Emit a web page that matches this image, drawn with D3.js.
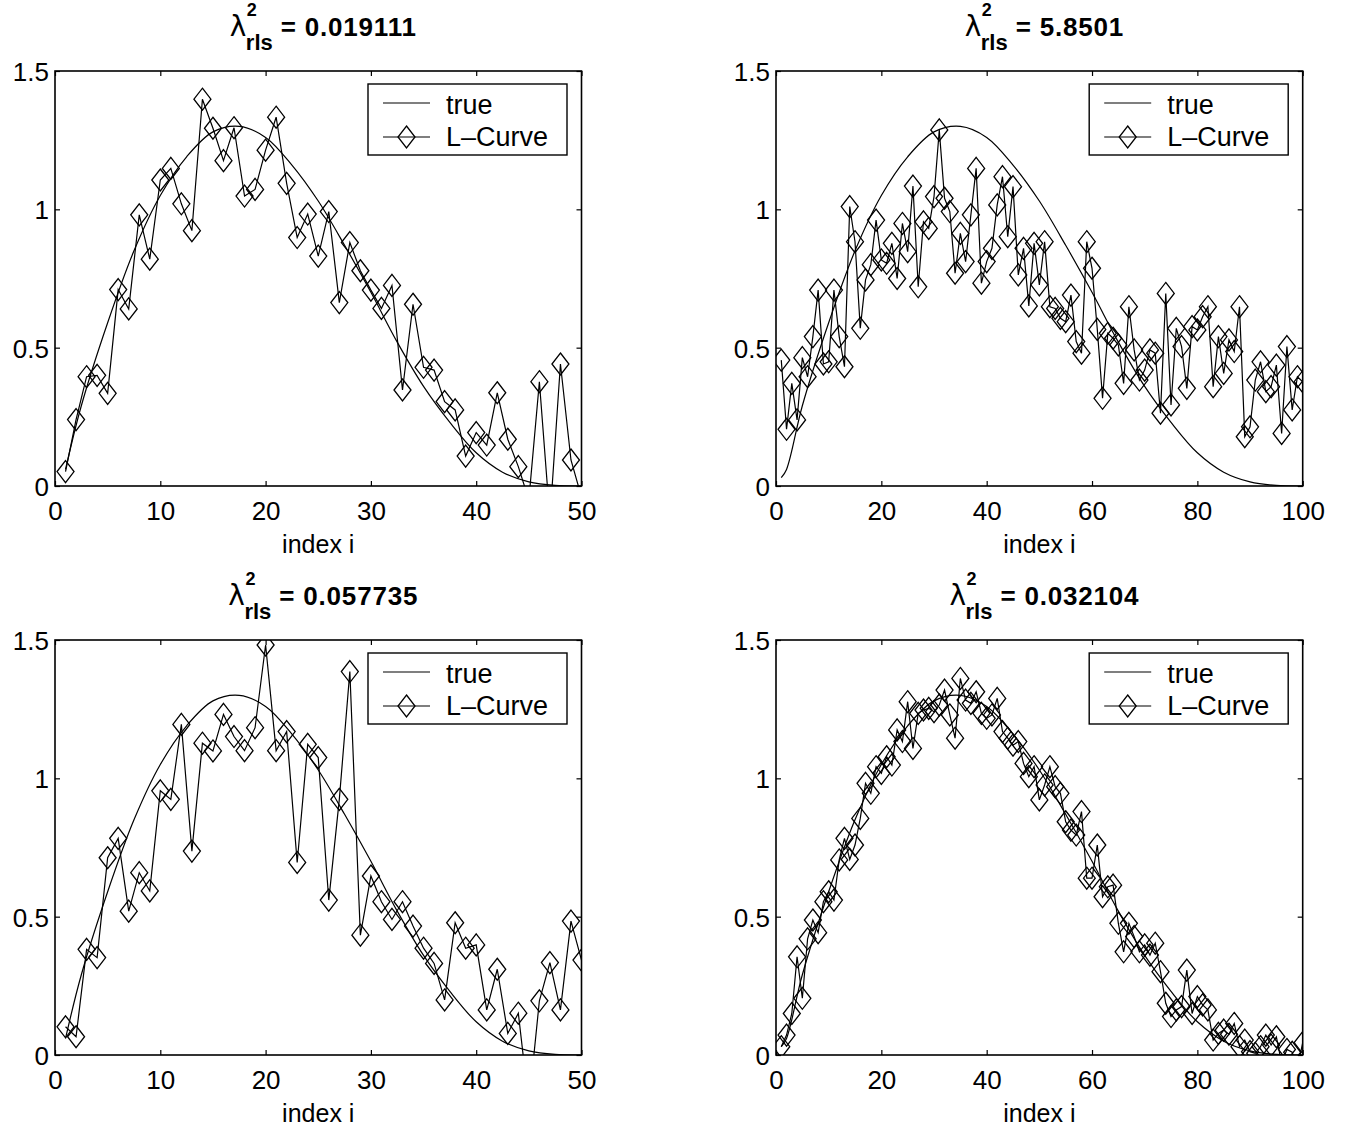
<!DOCTYPE html>
<html>
<head>
<meta charset="utf-8">
<script src="https://cdn.jsdelivr.net/npm/d3@7"></script>
<style>
  body { margin: 0; background: #fff; }
  svg { display: block; }
  text { font-family: "Liberation Sans", Arial, Helvetica, sans-serif; fill: #000; }
</style>
</head>
<body>
<svg id="fig" width="1345" height="1129"></svg>
<script>
// ---- data ----
const lambdaLabels = ["0.019111", "5.8501", "0.057735", "0.032104"];
const problemSizes = [50, 100, 50, 100];

// regularized solutions, one value per index i = 1..n
const fitTopLeft = [
  0.052, 0.24, 0.395, 0.40, 0.335, 0.71, 0.64, 0.98, 0.82, 1.106,
  1.148, 1.02, 0.923, 1.398, 1.293, 1.176, 1.295, 1.048, 1.072, 1.214,
  1.333, 1.094, 0.898, 0.983, 0.831, 0.992, 0.663, 0.88, 0.778, 0.708,
  0.642, 0.725, 0.347, 0.657, 0.429, 0.419, 0.305, 0.275, 0.108, 0.193,
  0.148, 0.337, 0.169, 0.07, -0.05, 0.377, -0.12, 0.441, 0.094, -0.04
];
const fitTopRight = [
  0.455, 0.205, 0.371, 0.239, 0.464, 0.395, 0.54, 0.708, 0.441, 0.449,
  0.708, 0.54, 0.431, 1.01, 0.883, 0.57, 0.745, 0.80, 0.961, 0.817,
  0.805, 0.877, 0.75, 0.949, 0.847, 1.084, 0.72, 0.955, 0.931, 1.046,
  1.287, 1.04, 0.992, 0.769, 0.913, 0.811, 0.98, 1.148, 0.733, 0.811,
  0.859, 1.016, 1.118, 0.901, 1.082, 0.763, 0.859, 0.651, 0.877, 0.727,
  0.883, 0.648, 0.642, 0.606, 0.594, 0.69, 0.522, 0.48, 0.883, 0.787,
  0.566, 0.317, 0.552, 0.534, 0.51, 0.371, 0.648, 0.492, 0.383, 0.419,
  0.492, 0.48, 0.263, 0.696, 0.293, 0.57, 0.504, 0.353, 0.576, 0.564,
  0.612, 0.648, 0.359, 0.54, 0.407, 0.528, 0.486, 0.648, 0.178, 0.214,
  0.383, 0.449, 0.341, 0.359, 0.437, 0.19, 0.504, 0.275, 0.395, 0.377
];
const fitBottomLeft = [
  0.102, 0.066, 0.382, 0.352, 0.713, 0.783, 0.52, 0.659, 0.593, 0.955,
  0.924, 1.195, 0.737, 1.127, 1.099, 1.231, 1.151, 1.10, 1.183, 1.482,
  1.10, 1.169, 0.696, 1.123, 1.075, 0.56, 0.924, 1.386, 0.433, 0.647,
  0.554, 0.49, 0.554, 0.466, 0.386, 0.331, 0.199, 0.478, 0.386, 0.398,
  0.163, 0.31, 0.078, 0.151, -0.18, 0.196, 0.334, 0.163, 0.484, 0.343
];
const fitBottomRight = [
  0.03, 0.072, 0.15, 0.355, 0.205, 0.42, 0.488, 0.442, 0.554, 0.59,
  0.56, 0.705, 0.783, 0.707, 0.759, 0.855, 0.982, 0.946, 1.042, 1.018,
  1.078, 1.048, 1.175, 1.133, 1.277, 1.108, 1.235, 1.247, 1.253, 1.241,
  1.265, 1.319, 1.229, 1.145, 1.361, 1.283, 1.271, 1.313, 1.235, 1.217,
  1.229, 1.289, 1.169, 1.145, 1.12, 1.133, 1.054, 1.006, 1.042, 0.922,
  0.976, 1.042, 0.97, 0.946, 0.843, 0.813, 0.795, 0.88, 0.639, 0.639,
  0.759, 0.572, 0.608, 0.614, 0.476, 0.373, 0.476, 0.428, 0.373, 0.398,
  0.361, 0.404, 0.301, 0.187, 0.139, 0.163, 0.175, 0.307, 0.15, 0.211,
  0.181, 0.163, 0.054, 0.078, 0.09, 0.075, 0.114, 0.03, 0.054, 0.012,
  0.006, 0.03, 0.072, 0.036, 0.066, -0.03, 0.02, 0.01, -0.05, 0.045
];

// true solution, sampled at fractions of the index range
const trueFrac = [0.01, 0.02, 0.05, 0.10, 0.15, 0.20, 0.25, 0.30, 0.35, 0.40, 0.45,
                  0.50, 0.55, 0.60, 0.65, 0.70, 0.75, 0.80, 0.85, 0.90, 0.95, 1.00];
const trueVals = [0.03, 0.06, 0.29, 0.59, 0.85, 1.05, 1.19, 1.28, 1.30, 1.26, 1.16,
                  1.03, 0.87, 0.70, 0.52, 0.36, 0.23, 0.12, 0.05, 0.015, 0.002, 0.0];

const xTicks50 = [0, 10, 20, 30, 40, 50];
const xTicks100 = [0, 20, 40, 60, 80, 100];
const yTicks = [0, 0.5, 1, 1.5];
const yTickLabels = ["0", "0.5", "1", "1.5"];
const legendLabels = ["true", "L\u2013Curve"];
const xAxisLabel = "index i";

const fits = [fitTopLeft, fitTopRight, fitBottomLeft, fitBottomRight];

// ---- layout ----
const frames = [
  { left: 55,  right: 581.5,  top: 71,  bottom: 486 },
  { left: 776, right: 1302.7, top: 71,  bottom: 486 },
  { left: 55,  right: 581.5,  top: 640, bottom: 1055 },
  { left: 776, right: 1302.7, top: 640, bottom: 1055 }
];

const svg = d3.select("#fig");
const TICK_FONT = 26;
const LEGEND_FONT = 27;
const LABEL_FONT = 25;
const TICK = 5;
const diamondPath = "M0,-11L8.5,0L0,11L-8.5,0Z";

// title of the form  lambda^2_rls = value, with stacked super/subscript
function drawTitle(cx, baseline, value) {
  const g = svg.append("g");
  const lam = g.append("text").attr("x", 0).attr("y", baseline)
    .style("font-family", "'DejaVu Sans', 'Liberation Sans', sans-serif")
    .style("font-size", "28px").text("\u03bb");
  const wl = lam.node().getComputedTextLength();
  const sup = g.append("text").attr("x", wl + 0.5).attr("y", baseline - 20)
    .style("font-size", "18px").style("font-weight", "bold").text("2");
  const sub = g.append("text").attr("x", wl - 0.5).attr("y", baseline + 14)
    .style("font-size", "22px").style("font-weight", "bold").text("rls");
  const ws = Math.max(wl + 0.5 + sup.node().getComputedTextLength(),
                      wl - 0.5 + sub.node().getComputedTextLength());
  const main = g.append("text").attr("x", ws + 8).attr("y", baseline)
    .style("font-size", "26px").style("font-weight", "bold")
    .style("letter-spacing", "0.8px").text("= " + value);
  const total = ws + 8 + main.node().getComputedTextLength();
  g.attr("transform", `translate(${cx - total / 2},0)`);
}

frames.forEach((f, p) => {
  const n = problemSizes[p];
  const xTicks = n === 50 ? xTicks50 : xTicks100;
  const x = d3.scaleLinear().domain([0, n]).range([f.left, f.right]);
  const y = d3.scaleLinear().domain([0, 1.5]).range([f.bottom, f.top]);

  const clipId = "clip" + p;
  svg.append("clipPath").attr("id", clipId).append("rect")
    .attr("x", f.left).attr("y", f.top)
    .attr("width", f.right - f.left).attr("height", f.bottom - f.top);

  const plot = svg.append("g").attr("clip-path", `url(#${clipId})`);

  // true solution
  const truePts = trueFrac.map((t, k) => [t * n, trueVals[k]]).filter(d => d[0] >= 1);
  plot.append("path")
    .attr("d", d3.line().x(d => x(d[0])).y(d => y(d[1])).curve(d3.curveCatmullRom.alpha(0.5))(truePts))
    .attr("fill", "none").attr("stroke", "#000").attr("stroke-width", 1.2);

  // regularized solution
  const fitPts = fits[p].map((v, k) => [k + 1, v]);
  plot.append("path")
    .attr("d", d3.line().x(d => x(d[0])).y(d => y(d[1]))(fitPts))
    .attr("fill", "none").attr("stroke", "#000").attr("stroke-width", 1.2);
  plot.selectAll("path.mk").data(fitPts.filter(d => d[1] >= 0)).enter()
    .append("path").attr("class", "mk")
    .attr("d", diamondPath)
    .attr("transform", d => `translate(${x(d[0])},${y(d[1])})`)
    .attr("fill", "none").attr("stroke", "#000").attr("stroke-width", 1.3);

  // axes box with inward ticks on all sides
  const ax = svg.append("g");
  ax.append("rect").attr("x", f.left).attr("y", f.top)
    .attr("width", f.right - f.left).attr("height", f.bottom - f.top)
    .attr("fill", "none").attr("stroke", "#000").attr("stroke-width", 1.6);

  const bottomAxis = d3.axisBottom(x).tickValues(xTicks).tickSize(-TICK).tickFormat(d3.format("d"));
  const topAxis = d3.axisTop(x).tickValues(xTicks).tickSize(-TICK).tickFormat("");
  const leftAxis = d3.axisLeft(y).tickValues(yTicks).tickSize(-TICK).tickFormat((d, i) => yTickLabels[i]);
  const rightAxis = d3.axisRight(y).tickValues(yTicks).tickSize(-TICK).tickFormat("");

  const styleAxis = (sel) => {
    sel.select(".domain").remove();
    sel.selectAll(".tick line").attr("stroke", "#000").attr("stroke-width", 1.2);
    sel.selectAll(".tick text").attr("fill", "#000")
      .style("font-size", TICK_FONT + "px")
      .style("font-family", "'Liberation Sans', Arial, sans-serif");
  };
  const gb = ax.append("g").attr("transform", `translate(0,${f.bottom})`).call(bottomAxis).call(styleAxis);
  gb.selectAll(".tick text").attr("y", 34).attr("dy", null);
  ax.append("g").attr("transform", `translate(0,${f.top})`).call(topAxis).call(styleAxis);
  const gl = ax.append("g").attr("transform", `translate(${f.left},0)`).call(leftAxis).call(styleAxis);
  gl.selectAll(".tick text").attr("x", -6).attr("dy", "0.36em");
  ax.append("g").attr("transform", `translate(${f.right},0)`).call(rightAxis).call(styleAxis);

  // x axis label
  svg.append("text").attr("x", (f.left + f.right) / 2).attr("y", f.bottom + 67)
    .attr("text-anchor", "middle").style("font-size", LABEL_FONT + "px").text(xAxisLabel);

  // title
  drawTitle((f.left + f.right) / 2 + 5, f.top - 35, lambdaLabels[p]);

  // legend
  const lx = f.right - 213.5, ly = f.top + 13;
  const lg = svg.append("g");
  lg.append("rect").attr("x", lx).attr("y", ly).attr("width", 199).attr("height", 71)
    .attr("fill", "#fff").attr("stroke", "#000").attr("stroke-width", 1.4);
  lg.append("line").attr("x1", lx + 15).attr("x2", lx + 62)
    .attr("y1", ly + 19).attr("y2", ly + 19).attr("stroke", "#000").attr("stroke-width", 1.2);
  lg.append("text").attr("x", lx + 78).attr("y", ly + 30)
    .style("font-size", LEGEND_FONT + "px").text(legendLabels[0]);
  lg.append("line").attr("x1", lx + 15).attr("x2", lx + 62)
    .attr("y1", ly + 53).attr("y2", ly + 53).attr("stroke", "#000").attr("stroke-width", 1.2);
  lg.append("path").attr("d", diamondPath)
    .attr("transform", `translate(${lx + 38.5},${ly + 53})`)
    .attr("fill", "none").attr("stroke", "#000").attr("stroke-width", 1.3);
  lg.append("text").attr("x", lx + 78).attr("y", ly + 62)
    .style("font-size", LEGEND_FONT + "px").text(legendLabels[1]);
});
</script>
</body>
</html>
